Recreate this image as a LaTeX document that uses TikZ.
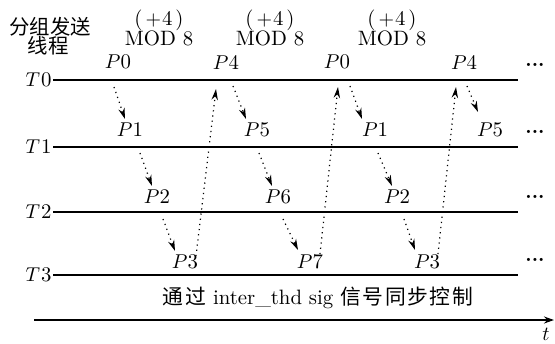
\documentclass[tikz,border=0pt]{standalone}
\usepackage{fontspec}
\newfontfamily\cjk{Noto Sans CJK SC}
\usetikzlibrary{arrows.meta}
\begin{document}
\begin{tikzpicture}[x=0.5pt,y=-0.5pt,
  lbl/.style={inner sep=0pt,font=\fontsize{10.4}{12}\selectfont},
  thr/.style={line width=0.9pt},
  msg/.style={dotted,line width=0.6pt,-{Stealth[length=5.5pt,width=3.2pt]}},
  more/.style={inner sep=0pt,font=\bfseries\fontsize{10}{12}\selectfont}]
\useasboundingbox (0,0) rectangle (555,343);
% thread header
\node[lbl,font=\cjk\fontsize{10.2}{12}\selectfont] (h1) at (50,27) {分组发送};
\node[lbl,font=\cjk\fontsize{10.2}{12}\selectfont] (h2) at (48,46) {线程};
% column headers
\foreach \n/\x in {a/159,b/270,c/392}{
  \node[lbl] (plus\n) at (\x,20) {(\kern1.5pt$+$\kern0.5pt4\kern1.5pt)};
  \node[lbl] (mod\n) at (\x,38) {MOD 8};
}
% threads
\foreach \i/\y in {0/80,1/147,2/212,3/275}{
  \node[lbl,anchor=east] (t\i) at (52,\y) {$T$\kern0.5pt\i};
  \draw[thr] (t\i.east) ++(1,0) coordinate (s\i) -- (518,\y) coordinate (e\i);
  \node[more] (d\i) at (535,\y-15) {...};
}
\draw[line width=1.3pt] (441,212) -- (518,212);
% packet labels
\node[lbl] (p00) at (118,62) {$P$0};
\node[lbl] (p04) at (226,62) {$P$4};
\node[lbl] (p10) at (337,62) {$P$0};
\node[lbl] (p14) at (464,62) {$P$4};
\node[lbl] (q01) at (130,130) {$P$1};
\node[lbl] (q05) at (257,130) {$P$5};
\node[lbl] (q11) at (375,130) {$P$1};
\node[lbl] (q15) at (490,130) {$P$5};
\node[lbl] (r02) at (157,197) {$P$2};
\node[lbl] (r06) at (278,197) {$P$6};
\node[lbl] (r12) at (397,197) {$P$2};
\node[lbl] (s03) at (185,262) {$P$3};
\node[lbl] (s07) at (310,262) {$P$7};
\node[lbl] (s13) at (427,262) {$P$3};
% down arrows
\draw[msg] (114,87) -- (125,119);
\draw[msg] (140,153) -- (152,186);
\draw[msg] (163,219) -- (175,251);
\draw[msg] (233,86) -- (246,119);
\draw[msg] (259,153) -- (272,186);
\draw[msg] (283,219) -- (298,250);
\draw[msg] (350,86) -- (362,119);
\draw[msg] (378,153) -- (392,186);
\draw[msg] (404,219) -- (415,250);
\draw[msg] (467,86) -- (478,112);
% up arrows
\draw[msg] (196,256) -- (216,89);
\draw[msg] (320,254) -- (338,87);
\draw[msg] (438,254) -- (456,87);
% bottom
\node[lbl] (sync) at (318,298) {{\cjk 通\kern0.8pt 过} inter\_thd sig {\cjk 信\kern0.8pt 号\kern0.8pt 同\kern0.8pt 步\kern0.8pt 控\kern0.8pt 制}};
\coordinate (ax0) at (34,320);
\coordinate (ax1) at (554,320);
\draw[line width=0.9pt,-{Stealth[length=5pt,width=3.5pt]}] (ax0) -- (ax1);
\node[lbl] (tl) at (546,334) {$t$};
\end{tikzpicture}
\end{document}
